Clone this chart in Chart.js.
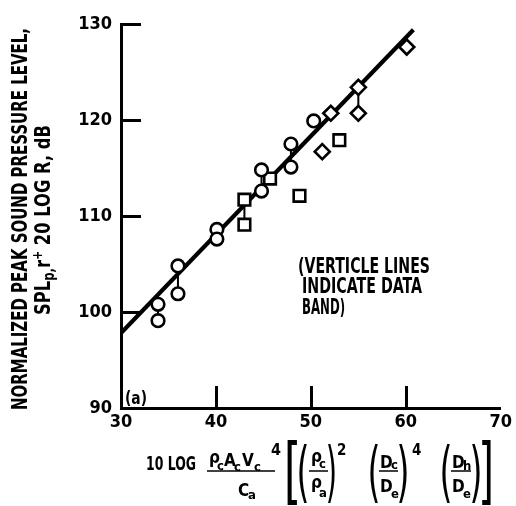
<!DOCTYPE html>
<html>
<head>
<meta charset="utf-8">
<script src="https://cdn.jsdelivr.net/npm/chart.js@4.4.1/dist/chart.umd.min.js"></script>
<style>
  html, body { margin: 0; padding: 0; background: #fff; }
  canvas { display: block; }
</style>
</head>
<body>
<canvas id="c" width="516" height="506"></canvas>
<script>
const FONT = "'Liberation Sans Narrow', 'DejaVu Sans Condensed', 'Arial Narrow', sans-serif";

// axis ticks
const xTicks = [30, 40, 50, 60, 70];
const yTicks = [90, 100, 110, 120, 130];

// measured points, grouped by symbol
const circleX = [33.9, 33.9, 36.0, 36.0, 40.1, 40.1, 44.8, 44.8, 47.9, 47.9, 50.3];
const circleY = [100.8, 99.1, 104.8, 101.9, 108.6, 107.6, 114.8, 112.6, 117.5, 115.1, 119.9];
const squareX = [43.0, 43.0, 45.7, 48.8, 53.0];
const squareY = [111.7, 109.1, 113.9, 112.1, 117.9];
const diamondX = [51.2, 52.1, 55.0, 55.0, 60.1];
const diamondY = [116.7, 120.7, 123.4, 120.7, 127.6];

// correlation line
const fitX = [30, 60.8];
const fitY = [97.8, 129.4];

function toPoints(xs, ys) {
  return xs.map((x, i) => ({ x: x, y: ys[i] }));
}

// vertical data-band segments joining readings taken at the same abscissa
function bandSegments(xs, ys) {
  const groups = new Map();
  xs.forEach((x, i) => {
    if (!groups.has(x)) groups.set(x, []);
    groups.get(x).push(ys[i]);
  });
  const pts = [];
  groups.forEach((g, x) => {
    if (g.length > 1) {
      pts.push({ x: x, y: Math.max(...g) }, { x: x, y: Math.min(...g) }, { x: x, y: null });
    }
  });
  return pts;
}

const bands = [].concat(
  bandSegments(circleX, circleY),
  bandSegments(squareX, squareY),
  bandSegments(diamondX, diamondY)
);

// --- text helpers -------------------------------------------------------
function fontOf(size, weight) { return (weight || 'bold') + ' ' + size + 'px ' + FONT; }

// draw text with its left edge at x, squeezed to width w if given
function put(ctx, t, x, y, size, w) {
  ctx.save();
  ctx.font = fontOf(size);
  ctx.textAlign = 'left';
  ctx.textBaseline = 'alphabetic';
  const m = ctx.measureText(t);
  const sx = w ? w / m.width : 1;
  ctx.translate(x, y);
  ctx.scale(sx, 1);
  ctx.fillText(t, 0, 0);
  ctx.restore();
}

// draw a glyph stretched to fill the box (x0,y0)-(x1,y1)
function putBox(ctx, t, x0, y0, x1, y1) {
  ctx.save();
  ctx.font = fontOf(60, 'normal');
  ctx.textAlign = 'left';
  ctx.textBaseline = 'alphabetic';
  const m = ctx.measureText(t);
  const w = m.actualBoundingBoxLeft + m.actualBoundingBoxRight;
  const h = m.actualBoundingBoxAscent + m.actualBoundingBoxDescent;
  ctx.translate(x0, y0);
  ctx.scale((x1 - x0) / w, (y1 - y0) / h);
  ctx.fillText(t, m.actualBoundingBoxLeft, m.actualBoundingBoxAscent);
  ctx.restore();
}

// draw a run of segments ({t, size, dy}) centred on (0,0), squeezed to length L
function runCentered(ctx, segs, L) {
  ctx.save();
  ctx.textAlign = 'left';
  ctx.textBaseline = 'middle';
  let total = 0;
  const widths = segs.map(s => { ctx.font = fontOf(s.size); const w = ctx.measureText(s.t).width; total += w; return w; });
  ctx.scale(L / total, 1);
  let x = -total / 2;
  segs.forEach((s, i) => {
    ctx.font = fontOf(s.size);
    ctx.fillText(s.t, x, s.dy || 0);
    x += widths[i];
  });
  ctx.restore();
}

function hline(ctx, x0, x1, y, lw) {
  ctx.beginPath();
  ctx.lineWidth = lw;
  ctx.moveTo(x0, y);
  ctx.lineTo(x1, y);
  ctx.stroke();
}

// inward tick marks on the left and bottom axes
const inwardTicks = {
  id: 'inwardTicks',
  afterDatasetsDraw(chart) {
    const { ctx, chartArea: a, scales } = chart;
    ctx.save();
    ctx.strokeStyle = '#000';
    ctx.lineWidth = 3;
    yTicks.slice(1).forEach(v => {
      const py = Math.round(scales.y.getPixelForValue(v)) + 0.5;
      ctx.beginPath(); ctx.moveTo(a.left, py); ctx.lineTo(a.left + 20, py); ctx.stroke();
    });
    xTicks.slice(1, -1).forEach(v => {
      const px = Math.round(scales.x.getPixelForValue(v)) + 0.5;
      ctx.beginPath(); ctx.moveTo(px, a.bottom); ctx.lineTo(px, a.bottom - 22); ctx.stroke();
    });
    ctx.restore();
  }
};

// axis titles and notes
const captions = {
  id: 'captions',
  afterDraw(chart) {
    const ctx = chart.ctx;
    ctx.save();
    ctx.fillStyle = '#000';
    ctx.strokeStyle = '#000';

    // vertical axis title, two lines
    ctx.save();
    ctx.translate(22, 219);
    ctx.rotate(-Math.PI / 2);
    runCentered(ctx, [{ t: 'NORMALIZED PEAK SOUND PRESSURE LEVEL,', size: 21 }], 382);
    ctx.restore();

    ctx.save();
    ctx.translate(45, 220);
    ctx.rotate(-Math.PI / 2);
    runCentered(ctx, [
      { t: 'SPL', size: 21 },
      { t: 'p,', size: 15, dy: 5 },
      { t: 'r', size: 21 },
      { t: '+', size: 14, dy: -7 },
      { t: ' 20 LOG R, dB', size: 21 }
    ], 190);
    ctx.restore();

    // horizontal axis title
    put(ctx, '10 LOG', 146, 470, 19, 50);

    put(ctx, 'ρ', 209, 463, 17);
    put(ctx, 'c', 217, 470, 13);
    put(ctx, 'A', 224, 466, 17);
    put(ctx, 'c', 234, 471, 13);
    put(ctx, 'V', 242, 466, 17);
    put(ctx, 'c', 254, 471, 13);
    put(ctx, '4', 271, 455, 16);
    hline(ctx, 207, 275, 471, 1.5);
    put(ctx, 'C', 238, 496, 17);
    put(ctx, 'a', 248, 499, 13);

    putBox(ctx, '[', 287, 441, 297, 506);
    putBox(ctx, '(', 299, 444, 307, 503);
    put(ctx, 'ρ', 311, 462, 17);
    put(ctx, 'c', 319, 468, 13);
    hline(ctx, 309, 328, 471, 1.5);
    put(ctx, 'ρ', 311, 488, 17);
    put(ctx, 'a', 319, 497, 13);
    putBox(ctx, ')', 328, 444, 335, 503);
    put(ctx, '2', 337, 455, 15);

    putBox(ctx, '(', 370, 444, 378, 503);
    put(ctx, 'D', 380, 468, 17);
    put(ctx, 'c', 391, 469, 13);
    hline(ctx, 379, 398, 471, 1.5);
    put(ctx, 'D', 380, 492, 17);
    put(ctx, 'e', 391, 498, 13);
    putBox(ctx, ')', 399, 444, 407, 503);
    put(ctx, '4', 412, 455, 15);

    putBox(ctx, '(', 442, 444, 450, 503);
    put(ctx, 'D', 452, 468, 17);
    put(ctx, 'h', 463, 470, 13);
    hline(ctx, 451, 471, 471, 1.5);
    put(ctx, 'D', 452, 492, 17);
    put(ctx, 'e', 463, 498, 13);
    putBox(ctx, ')', 472, 444, 480, 503);
    putBox(ctx, ']', 482, 441, 491, 506);

    // notes inside the plot
    put(ctx, '(VERTICLE LINES', 298, 273, 21, 132);
    put(ctx, 'INDICATE DATA', 302, 293, 21, 120);
    put(ctx, 'BAND)', 302, 314, 21, 43);
    put(ctx, '(a)', 125, 404, 17, 22);

    ctx.restore();
  }
};

const marker = {
  backgroundColor: '#fff',
  borderColor: '#000',
  borderWidth: 2.6,
  showLine: false
};

new Chart(document.getElementById('c'), {
  type: 'scatter',
  data: {
    datasets: [
      Object.assign({ label: 'circles', data: toPoints(circleX, circleY), pointStyle: 'circle', pointRadius: 6.3, order: 0 }, marker),
      Object.assign({ label: 'squares', data: toPoints(squareX, squareY), pointStyle: 'rect', pointRadius: 8.2, order: 0 }, marker),
      Object.assign({ label: 'diamonds', data: toPoints(diamondX, diamondY), pointStyle: 'rectRot', pointRadius: 7.5, order: 0 }, marker),
      {
        label: 'bands', type: 'line', data: bands, showLine: true, spanGaps: false,
        borderColor: '#000', borderWidth: 2, pointRadius: 0, fill: false, order: 1
      },
      {
        label: 'fit', type: 'line', data: toPoints(fitX, fitY), showLine: true,
        borderColor: '#000', borderWidth: 4.2, pointRadius: 0, fill: false, order: 2,
        borderCapStyle: 'butt'
      }
    ]
  },
  options: {
    responsive: false,
    animation: false,
    devicePixelRatio: 1,
    layout: { padding: { top: 24, right: 11, left: 0, bottom: 0 } },
    plugins: { legend: { display: false }, tooltip: { enabled: false } },
    scales: {
      x: {
        type: 'linear', min: xTicks[0], max: xTicks[xTicks.length - 1],
        afterBuildTicks: s => { s.ticks = xTicks.map(v => ({ value: v })); },
        afterFit: s => { s.height = 98; },
        grid: { display: true, drawOnChartArea: false, drawTicks: false },
        border: { display: true, color: '#000', width: 3 },
        ticks: { color: '#000', padding: 4, font: { family: FONT, size: 18, weight: 'bold' } }
      },
      y: {
        type: 'linear', min: yTicks[0], max: yTicks[yTicks.length - 1],
        afterBuildTicks: s => { s.ticks = yTicks.map(v => ({ value: v })); },
        afterFit: s => { s.width = 121; },
        grid: { display: true, drawOnChartArea: false, drawTicks: false },
        border: { display: true, color: '#000', width: 3 },
        ticks: { color: '#000', padding: 9, font: { family: FONT, size: 18, weight: 'bold' } }
      }
    }
  },
  plugins: [inwardTicks, captions]
});
</script>
</body>
</html>
